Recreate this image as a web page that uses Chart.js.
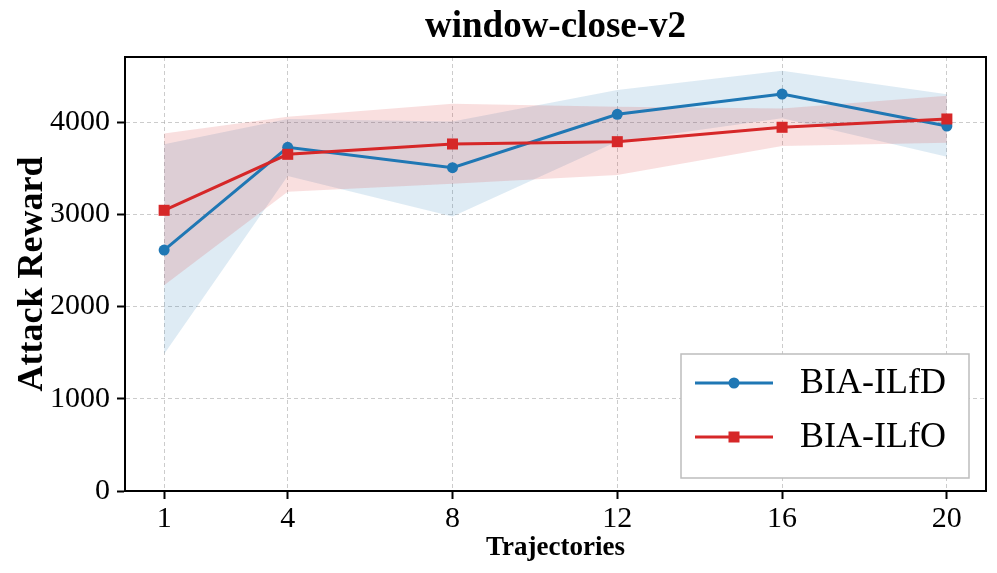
<!DOCTYPE html>
<html>
<head>
<meta charset="utf-8">
<script src="https://cdn.jsdelivr.net/npm/chart.js@4/dist/chart.umd.min.js"></script>
<style>
  html, body { margin: 0; padding: 0; background: #fff; }
  #wrap { width: 997px; height: 573px; }
</style>
</head>
<body>
<div id="wrap"><canvas id="chart" width="997" height="573"></canvas></div>
<script>
// data
const chartTitle = 'window-close-v2'
const trajectories = [1, 4, 8, 12, 16, 20]
const yTicks = [0, 1000, 2000, 3000, 4000]

const ilfdMean  = [2612, 3726, 3505, 4084, 4303, 3957]
const ilfdUpper = [3758, 4033, 4005, 4347, 4556, 4300]
const ilfdLower = [1485, 3415, 2975, 3790, 4040, 3624]

const ilfoMean  = [3043, 3650, 3762, 3787, 3943, 4033]
const ilfoUpper = [3877, 4058, 4198, 4166, 4148, 4285]
const ilfoLower = [2230, 3245, 3330, 3425, 3740, 3775]

const blue = '#1f77b4', red = '#d62728'
const blueFill = 'rgba(31,119,180,0.15)', redFill = 'rgba(214,39,40,0.15)'
const serif = "'Liberation Serif', 'Times New Roman', serif"

function pts(values)
{
    return trajectories.map((t, i) => ({ x: t, y: values[i] }))
}

function band(values, color, fill, order)
{
    return {
        label: '', data: pts(values), borderWidth: 0, pointRadius: 0,
        borderColor: 'rgba(0,0,0,0)', backgroundColor: color, fill: fill, order: order
    }
}

// box around the plot + the figure title
const framePlugin = {
    id: 'frame',
    afterDraw(chart)
    {
        const { ctx, chartArea: a } = chart
        ctx.save()
        ctx.strokeStyle = '#000'
        ctx.lineWidth = 2
        ctx.strokeRect(a.left, a.top, a.right - a.left, a.bottom - a.top)
        ctx.fillStyle = '#000'
        ctx.font = 'bold 37px ' + serif
        ctx.textAlign = 'center'
        ctx.textBaseline = 'alphabetic'
        ctx.fillText(chartTitle, (a.left + a.right) / 2, 37)
        ctx.restore()
    }
}

// legend in the lower right corner, like matplotlib
const legendPlugin = {
    id: 'innerLegend',
    afterDraw(chart)
    {
        const { ctx, chartArea: a } = chart
        const w = 288, h = 124
        const x0 = a.right - 17 - w, y0 = a.bottom - 13 - h
        ctx.save()
        ctx.fillStyle = '#fff'
        ctx.fillRect(x0, y0, w, h)
        ctx.strokeStyle = '#bdbdbd'
        ctx.lineWidth = 1.5
        ctx.strokeRect(x0, y0, w, h)
        const rows = [chart.data.datasets[0], chart.data.datasets[1]]
        rows.forEach((ds, i) =>
        {
            const cy = y0 + 29 + i * 54
            ctx.strokeStyle = ds.borderColor
            ctx.lineWidth = 3
            ctx.beginPath()
            ctx.moveTo(x0 + 14, cy)
            ctx.lineTo(x0 + 92, cy)
            ctx.stroke()
            ctx.fillStyle = ds.borderColor
            if (ds.pointStyle == 'rect')
            {
                ctx.fillRect(x0 + 53 - 5.5, cy - 5.5, 11, 11)
            }
            else
            {
                ctx.beginPath()
                ctx.arc(x0 + 53, cy, 5.5, 0, Math.PI * 2)
                ctx.fill()
            }
            ctx.fillStyle = '#000'
            ctx.font = '36px ' + serif
            ctx.textAlign = 'left'
            ctx.textBaseline = 'middle'
            ctx.fillText(ds.label, x0 + 119, cy + 1)
        })
        ctx.restore()
    }
}

const gridStyle = {
    color: 'rgba(170,170,170,0.6)',
    lineWidth: 1,
    tickColor: '#000',
    tickWidth: 2,
    tickLength: 8,
    tickBorderDash: []
}

new Chart(document.getElementById('chart').getContext('2d'), {
    type: 'line',
    data: {
        datasets: [
            {
                label: 'BIA-ILfD', data: pts(ilfdMean), borderColor: blue, backgroundColor: blue,
                borderWidth: 3, pointStyle: 'circle', pointRadius: 5.5, pointBorderWidth: 0,
                fill: false, order: 2
            },
            {
                label: 'BIA-ILfO', data: pts(ilfoMean), borderColor: red, backgroundColor: red,
                borderWidth: 3, pointStyle: 'rect', pointRadius: 7.8, pointBorderWidth: 0,
                fill: false, order: 1
            },
            band(ilfdUpper, blueFill, false, 4),
            band(ilfdLower, blueFill, 2, 4),
            band(ilfoUpper, redFill, false, 3),
            band(ilfoLower, redFill, 4, 3)
        ]
    },
    options: {
        responsive: false,
        animation: false,
        devicePixelRatio: 1,
        layout: { padding: { top: 57, right: 11, left: 0, bottom: 0 } },
        plugins: {
            legend: { display: false },
            title: { display: false },
            tooltip: { enabled: false }
        },
        scales: {
            x: {
                type: 'linear',
                min: 0.05,
                max: 20.95,
                afterBuildTicks: (s) => { s.ticks = trajectories.map(v => ({ value: v })) },
                afterFit: (s) => { s.height = 82 },
                grid: gridStyle,
                border: { display: true, color: '#000', width: 2, dash: [4, 3] },
                ticks: {
                    color: '#000', font: { family: serif, size: 30 }, padding: 2, maxRotation: 0,
                    callback: (v) => String(v)
                },
                title: {
                    display: true, text: 'Trajectories', color: '#000',
                    font: { family: serif, size: 27, weight: 'bold', lineHeight: 1 },
                    padding: { top: 0, bottom: 11 }
                }
            },
            y: {
                min: 0,
                max: 4705,
                afterBuildTicks: (s) => { s.ticks = yTicks.map(v => ({ value: v })) },
                afterFit: (s) => { s.width = 125 },
                grid: gridStyle,
                border: { display: true, color: '#000', width: 2, dash: [4, 3] },
                ticks: {
                    color: '#000', font: { family: serif, size: 30 }, padding: 7,
                    callback: (v) => String(v)
                },
                title: {
                    display: true, text: 'Attack Reward', color: '#000',
                    font: { family: serif, size: 36, weight: 'bold', lineHeight: 1 },
                    padding: { top: 15, bottom: 0 }
                }
            }
        }
    },
    plugins: [framePlugin, legendPlugin]
})
</script>
</body>
</html>
